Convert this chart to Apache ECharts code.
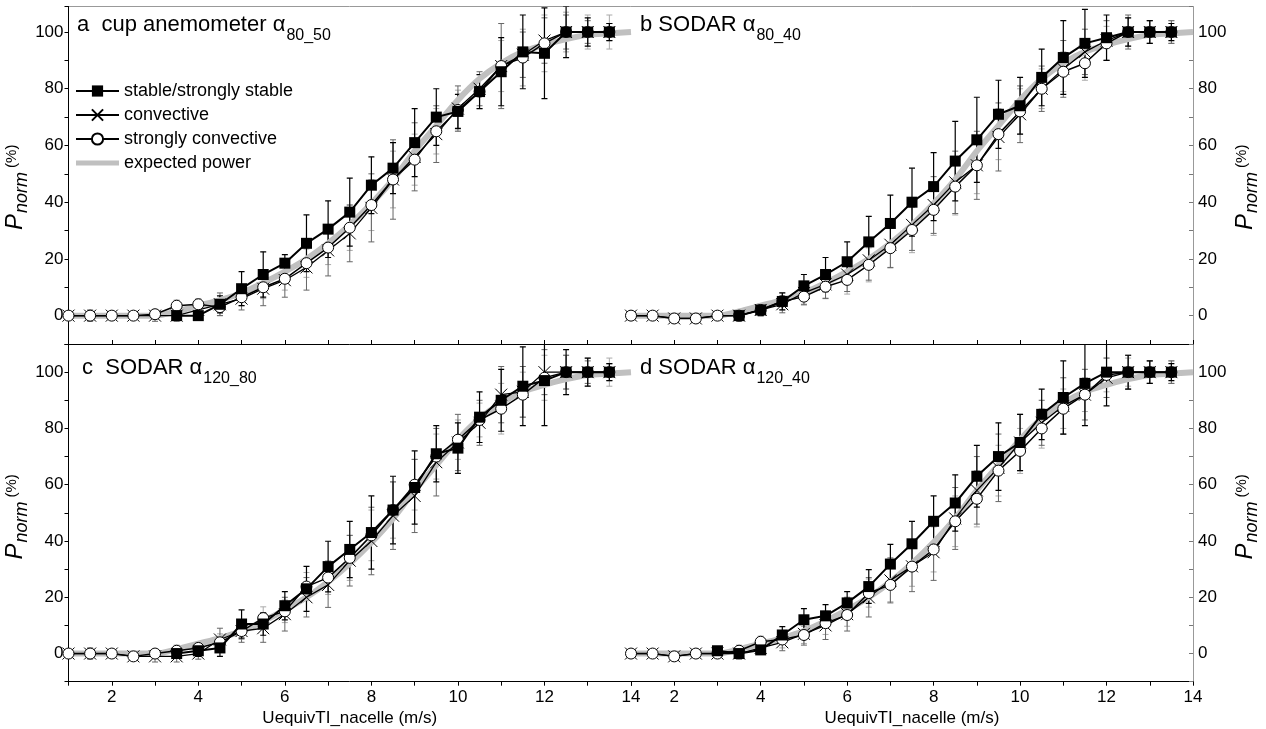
<!DOCTYPE html>
<html><head><meta charset="utf-8">
<script src="https://cdn.jsdelivr.net/npm/echarts@6/dist/echarts.min.js"></script>
<style>html,body{margin:0;padding:0;background:#fff}#c{width:1266px;height:729px}</style>
</head><body><div id="c"></div>
<script>
// wind speed bins (m/s)
const xs = [1,1.5,2,2.5,3,3.5,4,4.5,5,5.5,6,6.5,7,7.5,8,8.5,9,9.5,10,10.5,11,11.5,12,12.5,13,13.5];
const expX = [1,1.5,2,2.5,3,3.5,4,4.5,5,5.5,6,6.5,7,7.5,8,8.5,9,9.5,10,10.5,11,11.5,12,12.5,13,13.5,14];
const expected = [0,0,0,0,0,1.5,3.5,5.5,8,11.5,15.5,20,25.5,32,39.5,48,58,67,76,83.5,89,93,95.5,97.5,99,99.5,100];

// panel a: cup anemometer alpha 80_50
const aStable = [null,null,null,null,null,0,0,4,9.5,14.5,18.5,25.5,30.5,36.5,46,52,61,70,72,79,86,93,92.5,100,100,100];
const aConv   = [0,0,0,0,0,0,2,4,6,9.5,12.5,17,23,29,38,48,56,64,73,80,88,92,97,100,100,100];
const aSConv  = [0,0,0,0,0.5,3.5,4,3,6.5,10,13,18.5,24,31,39,48,55,65,72.5,79,88,91,96,100,100,100];
const aStableErr = [null,null,null,null,null,1,1,3,6,8,3,10,10,12,10,9,12,10,6,6,12,13,16,9,5,3];
const aConvErr   = [1,2,1,1,2,2,2,4,4,6,6,8,9,10,12,14,12,10,8,6,15,8,8,6,4,3];
const aSConvErr  = [1,1,1,1,1,2,2,3,3,4,4,5,6,8,9,10,9,8,7,6,9,10,10,7,6,6];

// panel b: SODAR alpha 80_40
const bStable = [null,null,null,null,null,0,2,5,10.5,14.5,19,26,32.5,40,45.5,54.5,62,71,74,84,91,96,98,100,100,100];
const bConv   = [0,0,-1,-1,0,0,2,4,8,11,14.5,19.5,25,32,39,47,53,63,71,80,87,93,97,100,100,100];
const bSConv  = [0,0,-1,-1,0,0,2,5,6.7,10.2,12.6,17.9,23.8,30.2,37.3,45.5,53,64,72,80,86,89,96,100,100,100];
const bStableErr = [null,null,null,null,null,1,2,3,4,6,7,9,10,12,12,14,15,12,10,10,13,12,8,5,4,3];
const bConvErr   = [1,1,1,1,1,2,2,3,4,5,6,7,8,9,10,11,12,12,10,8,10,8,7,6,4,4];
const bSConvErr  = [1,1,1,1,1,2,2,3,3,4,5,6,7,8,9,10,10,9,8,7,7,6,6,5,4,4];

// panel c: SODAR alpha 120_80
const cStable = [null,null,null,null,null,0,1,2,10.5,10.5,17,23,30.9,37,43,51,59,71,73,84,90,95,97,100,100,100];
const cConv   = [0,0,0,-1,-1,-1,0,5,8,9,14,20,24.4,33,40,49,56,68,75,82,92,93,100,100,100,100];
const cSConv  = [0,0,0,-1,0,1,2,4,8,12.6,15,23.8,27,34,42,51,60,70,76,83,87,92,98,100,100,100];
const cStableErr = [null,null,null,null,null,1,2,3,5,4,5,8,9,10,13,12,13,10,9,9,11,14,16,8,5,3];
const cConvErr   = [1,2,1,1,2,2,2,4,4,5,6,7,8,9,12,12,13,12,10,8,10,9,8,6,4,3];
const cSConvErr  = [1,1,1,1,1,2,2,3,3,4,4,5,6,8,9,10,9,8,7,6,9,8,8,6,5,5];

// panel d: SODAR alpha 120_40
const dStable = [null,null,null,null,1,0,1.3,6.6,12,13.4,18,23.8,31.8,39,47,53.5,63,70,75,85,91,96,100,100,100,100];
const dConv   = [0,0,-1,0,0,0,2,4,7,10,14,20,26,31,36,48,58,66,75,82,88,92,98,100,100,100];
const dSConv  = [0,0,-1,0,0,1,4.2,5,6.6,10.8,13.7,21.5,24.4,30.9,37,47,55,65,72,80,87,92,99,100,100,100];
const dStableErr = [null,null,null,null,1,1,1,3,4,4,4,6,7,8,9,10,11,12,10,9,13,15,12,6,4,3];
const dConvErr   = [1,1,1,1,1,2,2,3,4,5,6,7,8,9,10,11,12,12,10,8,10,9,7,6,4,4];
const dSConvErr  = [1,1,1,1,1,2,2,3,3,4,4,5,6,7,8,9,10,9,8,7,7,6,6,5,4,4];

const titles = [['a  cup anemometer α','80_50'],['b SODAR α','80_40'],['c  SODAR α','120_80'],['d SODAR α','120_40']];
const yTicks = [0,20,40,60,80,100];
const xTickLabels = [2,4,6,8,10,12,14];
const names = ['stable/strongly stable','convective','strongly convective','expected power'];

const FONT = 'Liberation Sans, Arial, sans-serif';
const panels = [
  {st:aStable,cv:aConv,sc:aSConv,ste:aStableErr,cve:aConvErr,sce:aSConvErr},
  {st:bStable,cv:bConv,sc:bSConv,ste:bStableErr,cve:bConvErr,sce:bSConvErr},
  {st:cStable,cv:cConv,sc:cSConv,ste:cStableErr,cve:cConvErr,sce:cSConvErr},
  {st:dStable,cv:dConv,sc:dSConv,ste:dStableErr,cve:dConvErr,sce:dSConvErr}
];

const grids = [
  {left:68.5, top:6.5, width:562.5, height:337.5},
  {left:631, top:6.5, width:562, height:337.5},
  {left:68.5, top:344, width:562.5, height:337.7},
  {left:631, top:344, width:562, height:337.7}
];

const pair = (xv, yv) => xv.map((x,i) => [x, yv[i]]);
const errData = (yv, ev) => xs.map((x,i) => (yv[i]==null||ev[i]==null) ? null : [x, yv[i]-ev[i], yv[i]+ev[i]]).filter(d => d);

function errRender(color, lw){
  return function(params, api){
    const x = api.value(0);
    const p1 = api.coord([x, api.value(1)]), p2 = api.coord([x, api.value(2)]);
    const w = 3, st = {stroke: color, lineWidth: lw};
    return {type:'group', children:[
      {type:'line', shape:{x1:p1[0],y1:p1[1],x2:p2[0],y2:p2[1]}, style:st},
      {type:'line', shape:{x1:p1[0]-w,y1:p1[1],x2:p1[0]+w,y2:p1[1]}, style:st},
      {type:'line', shape:{x1:p2[0]-w,y1:p2[1],x2:p2[0]+w,y2:p2[1]}, style:st}
    ]};
  };
}

const xAxes = [], yAxes = [], series = [];
const nameRich = {
  p:{fontSize:24, fontStyle:'italic', fontFamily:FONT, color:'#000'},
  s:{fontSize:18, fontStyle:'italic', fontFamily:FONT, color:'#000', padding:[14,0,0,1]},
  u:{fontSize:15, fontFamily:FONT, color:'#000', padding:[0,0,6,4]}
};
for (let k=0;k<4;k++){
  const top = k<2, right = (k%2)===1;
  xAxes.push({
    gridIndex:k, type:'value', min:1, max:14, interval:1, position:'bottom',
    axisLine:{show:true, onZero:false, lineStyle:{color:'#000', width:1}},
    axisTick:{show:true, inside:top, length:4, lineStyle:{color:'#000'}},
    axisLabel:{show:!top, margin:7, fontSize:17, color:'#000', fontFamily:FONT,
      formatter: v => xTickLabels.indexOf(v) >= 0 ? String(v) : ''},
    splitLine:{show:false},
    name: top ? '' : 'UequivTI_nacelle (m/s)', nameLocation:'middle', nameGap:28,
    nameTextStyle:{fontSize:17, color:'#000', fontFamily:FONT}
  });
  yAxes.push({
    gridIndex:k, type:'value', min:-10, max: top ? 109 : 110, interval:10,
    position: right ? 'right' : 'left',
    axisLine:{show:true, lineStyle:{color: right ? '#999' : '#000', width:1}},
    axisTick:{show:true, inside:right, length:4, lineStyle:{color: right ? '#777' : '#000'}},
    axisLabel:{margin:5, fontSize:17, color:'#000', fontFamily:FONT,
      formatter: v => yTicks.indexOf(v) >= 0 ? String(v) : ''},
    splitLine:{show:false},
    name:'{p|P}{s|norm}{u|(%)}', nameLocation:'middle', nameRotate:90, nameGap:36,
    nameTextStyle:{rich:nameRich, padding: top ? [0,24,0,0] : [0,8,0,0]}
  });
  const P = panels[k];
  series.push(
    {type:'custom', xAxisIndex:k, yAxisIndex:k, clip:true, silent:true, renderItem:errRender('#aaa',1), data:errData(P.sc,P.sce), z:1},
    {type:'custom', xAxisIndex:k, yAxisIndex:k, clip:true, silent:true, renderItem:errRender('#666',1), data:errData(P.cv,P.cve), z:1},
    {type:'custom', xAxisIndex:k, yAxisIndex:k, clip:true, silent:true, renderItem:errRender('#000',1.2), data:errData(P.st,P.ste), z:1},
    {name:names[3], type:'line', xAxisIndex:k, yAxisIndex:k, data:pair(expX, expected), smooth:0.3,
      showSymbol:false, symbol:'none', lineStyle:{color:'#c0c0c0', width:6}, itemStyle:{color:'#c0c0c0'}, z:2},
    {name:names[1], type:'line', xAxisIndex:k, yAxisIndex:k, data:pair(xs, P.cv), connectNulls:false,
      symbol:'path://M0,0L10,10M0,10L10,0', symbolSize:12,
      itemStyle:{color:'rgba(0,0,0,0)', borderColor:'#000', borderWidth:1},
      lineStyle:{color:'#000', width:1.3}, z:3},
    {name:names[2], type:'line', xAxisIndex:k, yAxisIndex:k, data:pair(xs, P.sc),
      symbol:'circle', symbolSize:11,
      itemStyle:{color:'#fff', borderColor:'#000', borderWidth:1},
      lineStyle:{color:'#000', width:1.5}, z:4},
    {name:names[0], type:'line', xAxisIndex:k, yAxisIndex:k, data:pair(xs, P.st),
      symbol:'rect', symbolSize:11,
      itemStyle:{color:'#000', borderColor:'#000', borderWidth:0},
      lineStyle:{color:'#000', width:2}, z:5}
  );
}

const titlePos = [[77,26],[640,26],[82,369],[640,369]];
const graphic = [
  {type:'line', shape:{x1:68.5, y1:6.5, x2:1193, y2:6.5}, style:{stroke:'#999', lineWidth:1}, silent:true}
];
titles.forEach((t,i) => {
  graphic.push({type:'text', left:titlePos[i][0], top:titlePos[i][1]-12, silent:true,
    style:{text:'{t|'+t[0]+'}{s|'+t[1]+'}', verticalAlign:'top',
      rich:{t:{fontSize:22, fontFamily:FONT, fill:'#000', color:'#000'},
            s:{fontSize:16, fontFamily:FONT, fill:'#000', color:'#000', padding:[22,0,0,1]}}}});
});

const legendData = names.map((n,i) => i === 3
  ? {name:n, icon:'path://M0,0L43,0L43,0ZM0,4.5H43V9.5H0ZM0,14L43,14L43,14Z', itemStyle:{color:'#c0c0c0', borderWidth:0}}
  : {name:n});

const chart = echarts.init(document.getElementById('c'), null, {renderer:'canvas'});
chart.setOption({
  animation:false,
  backgroundColor:'#fff',
  grid: grids,
  xAxis: xAxes,
  yAxis: yAxes,
  legend:{data:legendData, orient:'vertical', left:70, top:77, itemWidth:43, itemHeight:14, itemGap:6,
    textStyle:{fontSize:18, color:'#000', fontFamily:FONT}, selectedMode:false},
  graphic: graphic,
  series: series
});
</script></body></html>
